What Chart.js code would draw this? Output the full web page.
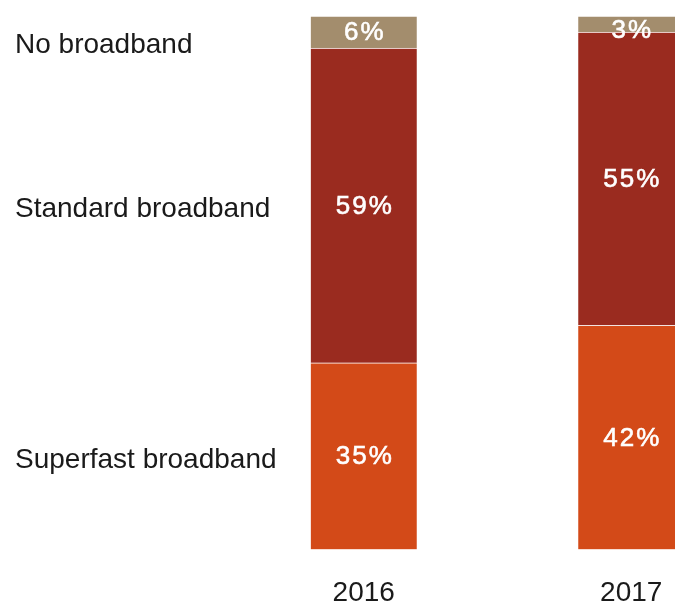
<!DOCTYPE html>
<html>
<head>
<meta charset="utf-8">
<script src="https://cdn.jsdelivr.net/npm/chart.js@4"></script>
<style>
  html, body { margin: 0; padding: 0; background: #fff; overflow: hidden; width: 675px; height: 603px; }
  #wrap { width: 780px; height: 637px; position: relative; }
</style>
</head>
<body>
<div id="wrap"><canvas id="c" width="780" height="637"></canvas></div>
<script>
const years = ['2016', '2017'];
const superfast = [35, 42];
const standard = [59, 55];
const noBroadband = [6, 3];
const seriesNames = ['Superfast broadband', 'Standard broadband', 'No broadband'];
const seriesColors = ['#D34A18', '#9A2B1F', '#A38D6D'];

const labelPlugin = {
  id: 'labels',
  afterDatasetsDraw(chart) {
    const ctx = chart.ctx;
    ctx.save();
    chart.data.datasets.forEach((ds, i) => {
      const meta = chart.getDatasetMeta(i);
      meta.data.forEach((bar, j) => {
        const mid = (bar.y + bar.base) / 2;
        ctx.font = '26px "Liberation Sans", Arial, sans-serif';
        ctx.letterSpacing = '2px';
        ctx.fillStyle = '#ffffff';
        ctx.textAlign = 'center';
        ctx.textBaseline = 'middle';
        const y = Math.max(mid, chart.chartArea.top + 14);
        ctx.fillText(ds.data[j] + '%', bar.x + 1, y + 1);
        ctx.lineWidth = 0.6;
        ctx.strokeStyle = '#ffffff';
        ctx.strokeText(ds.data[j] + '%', bar.x + 1, y + 1);
      });
      // series name on the left, aligned with the 2016 segment
      const first = meta.data[0];
      const m = (first.y + first.base) / 2 + 4;
      ctx.letterSpacing = '0px';
      ctx.font = '28px "Liberation Sans", Arial, sans-serif';
      ctx.fillStyle = '#1a1a1a';
      ctx.textAlign = 'left';
      ctx.textBaseline = 'middle';
      ctx.fillText(ds.label, 15, Math.max(m, chart.chartArea.top + 29));
    });
    ctx.restore();
  }
};

new Chart(document.getElementById('c'), {
  type: 'bar',
  data: {
    labels: years,
    datasets: [
      { label: seriesNames[0], data: superfast, backgroundColor: seriesColors[0] },
      { label: seriesNames[1], data: standard, backgroundColor: seriesColors[1] },
      { label: seriesNames[2], data: noBroadband, backgroundColor: seriesColors[2] }
    ].map(d => Object.assign(d, {
      barThickness: 106,
      borderWidth: { top: 1, bottom: 0, left: 0, right: 0 },
      borderColor: 'rgba(255,255,255,0.3)',
      borderSkipped: 'start'
    }))
  },
  options: {
    responsive: false,
    animation: false,
    layout: { padding: { left: 230, right: 15, top: 16, bottom: 0 } },
    plugins: { legend: { display: false }, tooltip: { enabled: false } },
    scales: {
      x: {
        stacked: true,
        grid: { display: false, drawTicks: false },
        border: { display: false },
        ticks: {
          color: '#1a1a1a',
          padding: 27,
          font: { family: '"Liberation Sans", Arial, sans-serif', size: 28 }
        }
      },
      y: { stacked: true, min: 0, max: 100, display: false }
    }
  },
  plugins: [labelPlugin]
});
</script>
</body>
</html>
